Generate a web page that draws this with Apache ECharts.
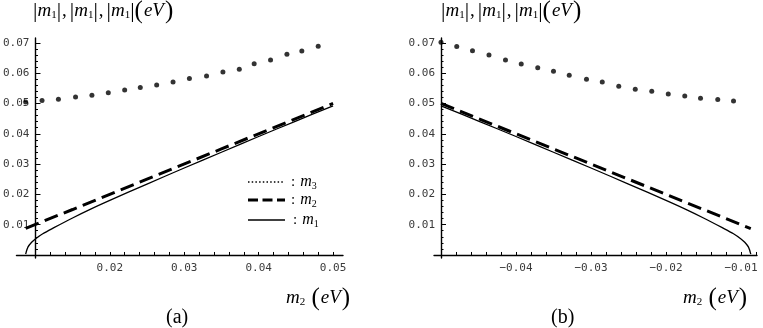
<!DOCTYPE html>
<html><head><meta charset="utf-8">
<script src="https://cdn.jsdelivr.net/npm/echarts@6/dist/echarts.min.js"></script>
<style>html,body{margin:0;padding:0;background:#fff}#c{width:763px;height:328px}</style>
</head><body><div id="c"></div>
<script>
// ---------- data ----------
// panel (a)
const m3LeftX = [0.0087, 0.0109, 0.0131, 0.0154, 0.0176, 0.0198, 0.0220, 0.0241, 0.0263, 0.0285, 0.0307, 0.0330, 0.0352, 0.0374, 0.0394, 0.0416, 0.0438, 0.0458, 0.0480];
const m3LeftY = [0.0505, 0.0510, 0.0514, 0.0521, 0.0527, 0.0535, 0.0544, 0.0553, 0.0561, 0.0571, 0.0582, 0.0591, 0.0604, 0.0613, 0.0631, 0.0643, 0.0662, 0.0673, 0.0689];
const m2LeftX = [0.0087, 0.0150, 0.0250, 0.0350, 0.0500];
const m2LeftY = [0.0088, 0.0150, 0.0250, 0.0350, 0.0500];
const m1LeftX = [0.0087, 0.0090, 0.0095, 0.0100, 0.0110, 0.0125, 0.0150, 0.0175, 0.0200, 0.0250, 0.0300, 0.0350, 0.0400, 0.0450, 0.0500];
const m1LeftY = [0.0003, 0.0026, 0.0042, 0.0053, 0.0070, 0.0090, 0.0122, 0.0152, 0.0180, 0.0234, 0.0287, 0.0339, 0.0391, 0.0442, 0.0492];
// panel (b)
const m3RightX = [-0.0500, -0.0479, -0.0458, -0.0436, -0.0414, -0.0393, -0.0371, -0.0350, -0.0329, -0.0306, -0.0285, -0.0263, -0.0241, -0.0219, -0.0197, -0.0175, -0.0154, -0.0131, -0.0110];
const m3RightY = [0.0702, 0.0688, 0.0674, 0.0660, 0.0643, 0.0630, 0.0618, 0.0606, 0.0593, 0.0580, 0.0571, 0.0557, 0.0547, 0.0540, 0.0531, 0.0525, 0.0517, 0.0513, 0.0508];
const m2RightX = [-0.0500, -0.0350, -0.0250, -0.0150, -0.0087];
const m2RightY = [0.0500, 0.0350, 0.0250, 0.0150, 0.0087];
const m1RightX = [-0.0500, -0.0450, -0.0400, -0.0350, -0.0300, -0.0250, -0.0200, -0.0175, -0.0150, -0.0125, -0.0110, -0.0100, -0.0095, -0.0090, -0.0087];
const m1RightY = [0.0492, 0.0442, 0.0391, 0.0339, 0.0287, 0.0234, 0.0180, 0.0152, 0.0122, 0.0090, 0.0070, 0.0053, 0.0042, 0.0026, 0.0003];
// tick labels
const yTickLabels = [0.01, 0.02, 0.03, 0.04, 0.05, 0.06, 0.07];
const xTickLabelsLeft = [0.02, 0.03, 0.04, 0.05];
const xTickLabelsRight = [-0.04, -0.03, -0.02, -0.01];

// ---------- helpers ----------
const pairs = (xs, ys) => xs.map((x, i) => [x, ys[i]]);
function steps(a, b, n) { const out = []; for (let i = 0; i <= n; i++) out.push(Math.round((a + (b - a) * i / n) * 10000) / 10000); return out; }
const minorXL = steps(0.010, 0.050, 20);
const minorXR = steps(-0.050, -0.008, 21);
const minorY = steps(0, 0.070, 35);

const mono = 'DejaVu Sans Mono, Liberation Mono, monospace';
const serif = 'Liberation Serif, Times New Roman, serif';
const lblStyle = { fontFamily: mono, fontSize: 11, color: '#3a3a3a' };
const axisLineStyle = { color: '#000', width: 1.4 };

function xAxisDef(grid, min, max, labels, minor) {
  return {
    type: 'value', gridIndex: grid, min: min, max: max, position: 'bottom',
    axisLine: { show: true, onZero: true, lineStyle: axisLineStyle },
    axisTick: { show: true, inside: true, length: 3, customValues: minor, lineStyle: { color: '#000', width: 1 } },
    axisLabel: Object.assign({ customValues: labels, margin: 5, formatter: v => String(v).replace('-', '\u2212') }, lblStyle),
    splitLine: { show: false }
  };
}
function yAxisDefs(grid, offset) {
  return [{
    type: 'value', gridIndex: grid, min: -0.001, max: 0.0716, position: 'left', offset: offset,
    axisLine: { show: true, onZero: false, lineStyle: axisLineStyle },
    axisTick: { show: true, inside: true, length: 5, customValues: yTickLabels, lineStyle: { color: '#000', width: 1 } },
    axisLabel: Object.assign({ customValues: yTickLabels, margin: 6 }, lblStyle),
    splitLine: { show: false }
  }, {
    type: 'value', gridIndex: grid, min: -0.001, max: 0.0716, position: 'left', offset: offset,
    axisLine: { show: false },
    axisTick: { show: true, inside: true, length: 2.5, customValues: minorY, lineStyle: { color: '#000', width: 1 } },
    axisLabel: { show: false },
    splitLine: { show: false }
  }];
}

function seriesFor(xi, yi, m3, m2, m1) {
  return [
    { type: 'scatter', xAxisIndex: xi, yAxisIndex: yi, data: m3, symbol: 'circle', symbolSize: 5, itemStyle: { color: '#000' }, silent: true },
    { type: 'line', xAxisIndex: xi, yAxisIndex: yi, data: m2, symbol: 'none', lineStyle: { color: '#000', width: 3, type: [14, 6.5] }, silent: true },
    { type: 'line', xAxisIndex: xi, yAxisIndex: yi, data: m1, symbol: 'none', smooth: 0.3, lineStyle: { color: '#000', width: 1.3 }, silent: true }
  ];
}

const richBase = {
  b: { fontSize: 22, fontFamily: serif, fill: '#000' },
  m: { fontSize: 19, fontStyle: 'italic', fontFamily: serif, fill: '#000' },
  s: { fontSize: 11, fontFamily: serif, fill: '#000', padding: [9, 0, 0, 0] },
  c: { fontSize: 19, fontFamily: serif, fill: '#000', padding: [0, 3, 0, 1] },
  p: { fontSize: 25, fontFamily: serif, fill: '#000' },
  e: { fontSize: 19, fontStyle: 'italic', fontFamily: serif, fill: '#000', padding: [0, 1, 0, 1] },
  n: { fontSize: 20, fontFamily: serif, fill: '#000' },
  lm: { fontSize: 16, fontStyle: 'italic', fontFamily: serif, fill: '#000' },
  ls: { fontSize: 10, fontFamily: serif, fill: '#000', padding: [8, 0, 0, 0] },
  lc: { fontSize: 15, fontFamily: serif, fill: '#000', padding: [0, 5, 0, 0] }
};
const titleText = '{b||}{m|m}{s|1}{b||}{c|,}{b||}{m|m}{s|1}{b||}{c|,}{b||}{m|m}{s|1}{b||}{p|(}{e|eV}{p|)}';
const xNameText = '{m|m}{s|2}{p| (}{e|eV}{p|)}';

function txt(x, y, text) {
  return { type: 'text', x: x, y: y, silent: true, style: { text: text, rich: richBase, verticalAlign: 'middle', align: 'left' } };
}
function legLine(y, dash, w) {
  return { type: 'line', silent: true, shape: { x1: 248, y1: y, x2: 285, y2: y }, style: { stroke: '#000', lineWidth: w, lineDash: dash } };
}

const option = {
  backgroundColor: '#fff',
  animation: false,
  grid: [
    { left: 14, top: 38, width: 329, height: 220 },
    { left: 434, top: 38, width: 323, height: 220 }
  ],
  xAxis: [
    xAxisDef(0, 0.007467, 0.051333, xTickLabelsLeft, minorXL),
    xAxisDef(1, -0.050933, -0.007867, xTickLabelsRight, minorXR)
  ],
  yAxis: [].concat(yAxisDefs(0, -19), yAxisDefs(1, -7)),
  series: [].concat(
    seriesFor(0, 0, pairs(m3LeftX, m3LeftY), pairs(m2LeftX, m2LeftY), pairs(m1LeftX, m1LeftY)),
    seriesFor(1, 2, pairs(m3RightX, m3RightY), pairs(m2RightX, m2RightY), pairs(m1RightX, m1RightY))
  ),
  graphic: [
    txt(33, 11, titleText),
    txt(441, 11, titleText),
    txt(286, 298, xNameText),
    txt(683, 298, xNameText),
    txt(166, 318, '{n|(a)}'),
    txt(551, 318, '{n|(b)}'),
    legLine(182, [1.5, 2.2], 1.6),
    legLine(200, [10, 4.5], 2.8),
    legLine(220, null, 1.4),
    txt(291, 182, '{lc|:}{lm|m}{ls|3}'),
    txt(291, 200, '{lc|:}{lm|m}{ls|2}'),
    txt(293, 220, '{lc|:}{lm|m}{ls|1}')
  ]
};
const chart = echarts.init(document.getElementById('c'));
chart.setOption(option);
</script>
</body></html>
